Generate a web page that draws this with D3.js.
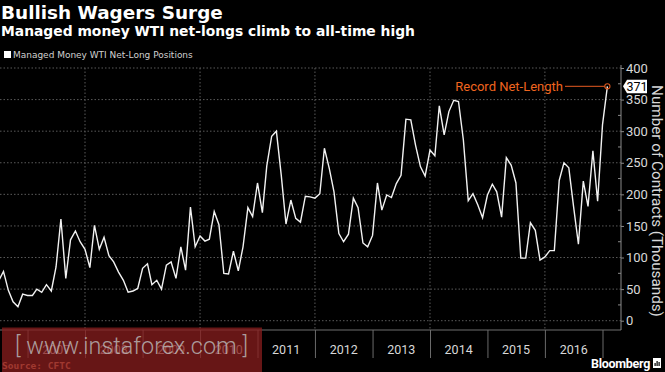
<!DOCTYPE html>
<html>
<head>
<meta charset="utf-8">
<script src="https://cdn.jsdelivr.net/npm/d3@7"></script>
<style>
  body { margin: 0; background: #000; }
  svg { display: block; }
</style>
</head>
<body>
<div id="chart"></div>
<script>
// Managed money WTI net-long positions, thousands of contracts, monthly from Jul 2006
var startMonth = '2006-07'
var netLongs = [
  63, 78, 48, 30, 22, 42,
  40, 40, 50, 45, 57, 47, 85, 161, 67, 128, 142, 125,
  113, 84, 151, 113, 132, 103, 93, 77, 64, 45, 47, 51,
  83, 90, 57, 64, 50, 88, 93, 67, 117, 80, 180, 117,
  134, 126, 129, 173, 152, 75, 74, 110, 79, 117, 179, 165,
  218, 171, 245, 292, 300, 230, 153, 191, 162, 156, 197, 196,
  194, 201, 273, 241, 204, 138, 125, 137, 194, 179, 123, 117,
  135, 218, 175, 199, 195, 217, 230, 319, 318, 278, 244, 229,
  270, 261, 340, 294, 331, 349, 347, 286, 190, 201, 183, 163,
  199, 216, 204, 164, 258, 246, 218, 99, 99, 155, 143, 96,
  101, 111, 111, 222, 250, 242, 181, 121, 221, 181, 269, 189,
  310, 371
]
var yearLabels = ['2007', '2008', '2009', '2010', '2011', '2012', '2013', '2014', '2015', '2016']
var yTicks = [0, 50, 100, 150, 200, 250, 300, 350, 400]
var recordLabel = 'Record Net-Length'

var W = 665
var H = 372

var parseMonth = d3.timeParse('%Y-%m')
var dates = netLongs.map(function (d, i) { return d3.timeMonth.offset(parseMonth(startMonth), i) })
var series = netLongs.map(function (v, i) { return { date: dates[i], value: v } })

var svg = d3.select('#chart').append('svg')
  .attr('width', W)
  .attr('height', H)
  .style('background', '#000')

// scales
var x = d3.scaleTime()
  .domain([new Date(2008, 0, 1), new Date(2017, 0, 1)])
  .range([85, 602.5])
var y = d3.scaleLinear()
  .domain([0, 400])
  .range([320.7, 68])

var plotRight = 621
var axisBottomY = 330

svg.append('clipPath').attr('id', 'plotClip')
  .append('rect').attr('x', 0).attr('y', 0).attr('width', plotRight).attr('height', axisBottomY)

// horizontal gridlines
svg.append('g').selectAll('line')
  .data(yTicks)
  .enter().append('line')
  .attr('x1', 0).attr('x2', plotRight)
  .attr('y1', function (d) { return y(d) }).attr('y2', function (d) { return y(d) })
  .attr('stroke', '#5a5a5a').attr('stroke-width', 1).attr('stroke-dasharray', '1.5,2')

// vertical gridlines every two years
var gridYears = [2008, 2010, 2012, 2014, 2016].map(function (yr) { return new Date(yr, 0, 1) })
svg.append('g').selectAll('line')
  .data(gridYears)
  .enter().append('line')
  .attr('x1', function (d) { return x(d) }).attr('x2', function (d) { return x(d) })
  .attr('y1', y(400)).attr('y2', axisBottomY)
  .attr('stroke', '#5a5a5a').attr('stroke-width', 1).attr('stroke-dasharray', '1.5,2')

// bottom axis: year ticks between the labels
var yearStarts = d3.range(2007, 2018).map(function (yr) { return new Date(yr, 0, 1) })
var xAxis = d3.axisBottom(x)
  .tickValues(yearStarts)
  .tickSize(28)
  .tickFormat('')
var gx = svg.append('g')
  .attr('transform', 'translate(0,' + axisBottomY + ')')
  .call(xAxis)
gx.select('.domain').remove()
gx.selectAll('.tick line').attr('stroke', '#6a6a6a')

svg.append('line')
  .attr('x1', 0).attr('x2', plotRight)
  .attr('y1', axisBottomY).attr('y2', axisBottomY)
  .attr('stroke', '#6f6f6f')

svg.append('g').selectAll('text')
  .data(yearLabels)
  .enter().append('text')
  .attr('x', function (d) { return x(new Date(+d, 6, 2)) })
  .attr('y', 354)
  .attr('text-anchor', 'middle')
  .attr('fill', '#d8d8d8')
  .style('font-family', 'Roboto, sans-serif')
  .style('font-size', '12.5px')
  .text(function (d) { return d })

// right axis
svg.append('line')
  .attr('x1', plotRight).attr('x2', plotRight)
  .attr('y1', 65).attr('y2', axisBottomY)
  .attr('stroke', '#8a8a8a')

var yAxis = d3.axisRight(y)
  .tickValues(yTicks)
  .tickSize(3)
  .tickPadding(2)
var gy = svg.append('g')
  .attr('transform', 'translate(' + plotRight + ',0)')
  .call(yAxis)
gy.select('.domain').remove()
gy.selectAll('.tick line').attr('stroke', '#8a8a8a')
gy.selectAll('.tick text')
  .attr('fill', '#d8d8d8')
  .style('font-family', 'Roboto, sans-serif')
  .style('font-size', '13px')

// minor ticks pointing into the plot
svg.append('g').selectAll('line')
  .data(d3.range(25, 400, 50))
  .enter().append('line')
  .attr('x1', plotRight - 3).attr('x2', plotRight)
  .attr('y1', function (d) { return y(d) }).attr('y2', function (d) { return y(d) })
  .attr('stroke', '#8a8a8a')

var yTitle = svg.append('text')
  .attr('transform', 'translate(652,' + 201 + ') rotate(90)')
  .attr('text-anchor', 'middle')
  .attr('fill', '#d8d8d8')
  .style('font-family', 'Roboto, sans-serif')
  .style('font-size', '14px')
  .text('Number of Contracts (Thousands)')
fitWidth(yTitle, 232)

// the series
var line = d3.line()
  .x(function (d) { return x(d.date) })
  .y(function (d) { return y(d.value) })

svg.append('path')
  .datum(series)
  .attr('clip-path', 'url(#plotClip)')
  .attr('d', line)
  .attr('fill', 'none')
  .attr('stroke', '#f2f2f2')
  .attr('stroke-width', 1.4)
  .attr('stroke-linejoin', 'miter')

// record annotation
var last = series[series.length - 1]
var lx = x(last.date)
var ly = y(last.value)
svg.append('line')
  .attr('x1', 565).attr('x2', lx - 2.5)
  .attr('y1', ly).attr('y2', ly)
  .attr('stroke', '#b8481a').attr('stroke-width', 1.2)
svg.append('circle')
  .attr('cx', lx).attr('cy', ly).attr('r', 2.6)
  .attr('fill', 'none').attr('stroke', '#d8571f').attr('stroke-width', 1.1)
svg.append('text')
  .attr('x', 563).attr('y', ly + 4.5)
  .attr('text-anchor', 'end')
  .attr('fill', '#f0651f')
  .style('font-family', 'Roboto, sans-serif')
  .style('font-size', '13px')
  .text(recordLabel)

// value tag on the axis
svg.append('path')
  .attr('d', 'M623,' + ly + ' L627,' + (ly - 6.5) + ' L647,' + (ly - 6.5) + ' L647,' + (ly + 7) + ' L627,' + (ly + 7) + ' Z')
  .attr('fill', '#fff')
svg.append('text')
  .attr('x', 637).attr('y', ly + 5)
  .attr('text-anchor', 'middle')
  .attr('fill', '#000')
  .style('font-family', 'Roboto, sans-serif')
  .style('font-size', '12.5px')
  .text(last.value)

// titles
function fitWidth (sel, w) {
  var len = sel.node().getComputedTextLength()
  var size = parseFloat(sel.style('font-size'))
  sel.style('font-size', (size * w / len) + 'px')
}

var title = svg.append('text')
  .attr('x', 1).attr('y', 19)
  .attr('fill', '#fff')
  .style('font-family', 'DejaVu Sans, sans-serif')
  .style('font-weight', 'bold')
  .style('font-size', '19px')
  .text('Bullish Wagers Surge')
fitWidth(title, 222)

var subtitle = svg.append('text')
  .attr('x', 1).attr('y', 36)
  .attr('fill', '#fff')
  .style('font-family', 'DejaVu Sans, sans-serif')
  .style('font-weight', 'bold')
  .style('font-size', '13.5px')
  .text('Managed money WTI net-longs climb to all-time high')
fitWidth(subtitle, 414)

svg.append('rect')
  .attr('x', 4).attr('y', 51).attr('width', 7).attr('height', 7)
  .attr('fill', '#fff')
var legendText = svg.append('text')
  .attr('x', 13).attr('y', 58)
  .attr('fill', '#d0d0d0')
  .style('font-family', 'DejaVu Sans, sans-serif')
  .style('font-size', '9.5px')
  .text('Managed Money WTI Net-Long Positions')
fitWidth(legendText, 180)

// footer
svg.append('text')
  .attr('x', 2).attr('y', 369)
  .attr('fill', '#e08a6a')
  .style('font-family', 'DejaVu Sans Mono, monospace')
  .style('font-weight', 'bold')
  .style('font-size', '9.5px')
  .text('Source: CFTC')

var brand = svg.append('text')
  .attr('x', 650).attr('y', 368)
  .attr('text-anchor', 'end')
  .attr('fill', '#fff')
  .style('font-family', 'Roboto, sans-serif')
  .style('font-weight', 'bold')
  .style('font-size', '12.5px')
  .style('letter-spacing', '-0.3px')
  .text('Bloomberg')
svg.append('rect')
  .attr('x', 653).attr('y', 358).attr('width', 8).attr('height', 10)
  .attr('fill', '#fff')
svg.append('g').selectAll('rect')
  .data([[654.5, 3], [656.5, 5], [658.5, 4]])
  .enter().append('rect')
  .attr('x', function (d) { return d[0] }).attr('y', function (d) { return 366 - d[1] })
  .attr('width', 1.2).attr('height', function (d) { return d[1] })
  .attr('fill', '#000')

// watermark overlay
svg.append('rect')
  .attr('x', 2).attr('y', 327.5).attr('width', 260).attr('height', 44.5)
  .attr('fill', '#8a1e1e').attr('opacity', 0.75)
var wm = svg.append('text')
  .attr('x', 15).attr('y', 354)
  .attr('fill', '#bdbdbd').attr('opacity', 0.8)
  .style('font-family', 'Roboto, sans-serif')
  .style('font-weight', 300)
  .style('font-size', '25px')
  .text('[ www.instaforex.com ]')
fitWidth(wm, 233)
</script>
</body>
</html>
